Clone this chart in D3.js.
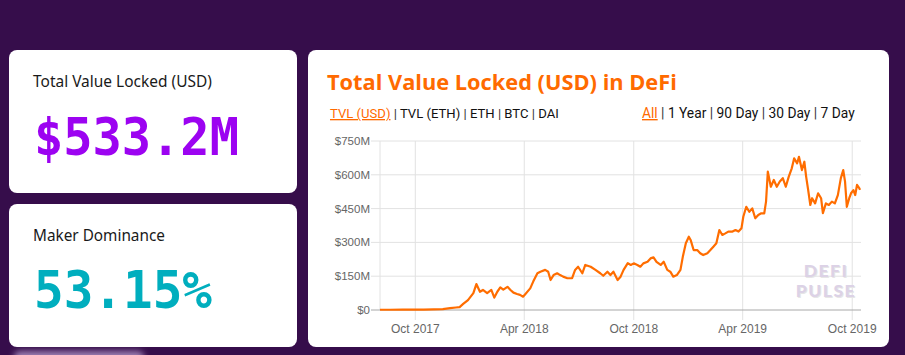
<!DOCTYPE html>
<html><head><meta charset="utf-8">
<script src="https://cdn.jsdelivr.net/npm/d3@7"></script>
<style>
html,body{margin:0;padding:0;background:#360d4b;overflow:hidden;}
svg{display:block;}
</style></head>
<body>
<svg id="c" width="905" height="355"></svg>
<script>
// ---- data ----
const tvlDate = ["2017-08-03","2017-08-20","2017-09-10","2017-10-01","2017-10-15","2017-11-01","2017-11-16","2017-11-28","2017-12-08","2017-12-14","2017-12-20","2017-12-28",
"2018-01-06","2018-01-11","2018-01-17","2018-01-22","2018-01-29","2018-02-05","2018-02-10","2018-02-15","2018-02-20","2018-02-25","2018-03-04","2018-03-09","2018-03-14","2018-03-20","2018-03-25","2018-03-30",
"2018-04-03","2018-04-11","2018-04-16","2018-04-23","2018-04-28","2018-05-06","2018-05-11","2018-05-15","2018-05-20","2018-05-26","2018-05-31","2018-06-05","2018-06-12","2018-06-20","2018-06-25","2018-06-30",
"2018-07-07","2018-07-12","2018-07-21","2018-07-29","2018-08-06","2018-08-11","2018-08-18","2018-08-23","2018-08-28","2018-09-04","2018-09-09","2018-09-14","2018-09-21","2018-09-26",
"2018-10-01","2018-10-07","2018-10-12","2018-10-17","2018-10-24","2018-10-29","2018-11-03","2018-11-08","2018-11-15","2018-11-20","2018-11-26","2018-12-01","2018-12-06","2018-12-12","2018-12-18","2018-12-22","2018-12-27",
"2019-01-01","2019-01-04","2019-01-09","2019-01-15","2019-01-20","2019-01-25","2019-02-01","2019-02-06","2019-02-11","2019-02-16","2019-02-21","2019-02-26","2019-03-03","2019-03-08","2019-03-15","2019-03-20","2019-03-25","2019-03-30",
"2019-04-02","2019-04-07","2019-04-12","2019-04-17","2019-04-22","2019-04-27","2019-05-02","2019-05-07","2019-05-10","2019-05-13","2019-05-18","2019-05-23","2019-05-28","2019-06-02","2019-06-07","2019-06-12","2019-06-17","2019-06-22","2019-06-26",
"2019-07-01","2019-07-04","2019-07-09","2019-07-13","2019-07-16","2019-07-19","2019-07-23","2019-07-26","2019-07-31","2019-08-05","2019-08-10","2019-08-13","2019-08-18","2019-08-23","2019-08-28",
"2019-09-02","2019-09-07","2019-09-12","2019-09-16","2019-09-19","2019-09-22","2019-09-26","2019-09-29","2019-10-03","2019-10-06","2019-10-09","2019-10-13","2019-10-14"];
const tvlUsdM = [1,1.2,1.5,1.8,2,3,4,8,11,13,27,44,
75,115,81,89,75,89,55,81,100,90,103,89,77,71,67,59,
71,96,126,163,170,178,170,133,155,163,155,148,141,141,178,192,
163,200,192,178,163,152,170,155,170,133,148,178,208,200,
207,200,192,207,214,229,234,214,200,214,178,170,148,155,178,237,296,
325,311,266,266,252,244,252,266,281,296,355,333,340,348,348,355,348,363,
414,458,436,451,407,422,429,429,481,614,547,577,547,570,585,547,592,629,673,
651,680,621,658,592,540,466,496,473,518,496,430,473,466,481,
473,510,585,621,570,458,496,518,532,510,555,540,533.2];
const xTickDates = ["2017-10-01","2018-04-01","2018-10-01","2019-04-01","2019-10-01"];
const yTicks = [0,150,300,450,600,750];
const leftTabs = ["TVL (USD)","TVL (ETH)","ETH","BTC","DAI"];
const rightTabs = ["All","1 Year","90 Day","30 Day","7 Day"];
const statLabels = ["Total Value Locked (USD)","Maker Dominance"];
const statValues = ["$533.2M","53.15%"];

// ---- drawing ----
const svg = d3.select("#c");
const parse = d3.timeParse("%Y-%m-%d");
const data = tvlDate.map((d,i)=>({date:parse(d), v:tvlUsdM[i]}));

function fit(sel, target){
  const n = sel.node();
  const w = n.getComputedTextLength();
  const fs = parseFloat(sel.attr("font-size"));
  sel.attr("font-size", fs*target/w);
}

// glow bottom-left
const defs = svg.append("defs");
defs.append("filter").attr("id","blur").attr("x","-50%").attr("y","-50%").attr("width","200%").attr("height","200%")
  .append("feGaussianBlur").attr("stdDeviation",3);
svg.append("rect").attr("x",14).attr("y",351).attr("width",130).attr("height",14).attr("rx",6)
  .attr("fill","#9d80b3").attr("filter","url(#blur)");

// cards
const cardRects = [[9,50,288,143],[9,204,288,143],[308,50,581,297]];
cardRects.forEach(r=>svg.append("rect").attr("x",r[0]).attr("y",r[1]).attr("width",r[2]).attr("height",r[3]).attr("rx",8).attr("fill","#fff"));

// stat cards
const statColors = ["#9c03f1","#00aebe"];
const labelY = [87,241], valueY=[155,308], labelW=[179,132], valueW=[205,178];
statLabels.forEach((t,i)=>{
  const s = svg.append("text").attr("x",33).attr("y",labelY[i]).attr("font-family","'Noto Sans', sans-serif")
    .attr("font-size",14).attr("fill","#1a1a1a").text(t);
  fit(s,labelW[i]);
  const gv = svg.append("g");
  const v = gv.append("text").attr("x",0).attr("y",0).attr("font-family","'DejaVu Sans Mono', monospace")
    .attr("font-weight",700).attr("font-size",48).attr("fill",statColors[i]).text(statValues[i]);
  fit(v,valueW[i]);
  const fs = parseFloat(v.attr("font-size"));
  const k = 37/(0.729*fs);
  gv.attr("transform",`translate(34,${valueY[i]}) scale(1,${k})`);
});

// title
const title = svg.append("text").attr("x",327).attr("y",90).attr("font-family","'Open Sans', sans-serif")
  .attr("font-weight",700).attr("font-size",20).attr("fill","#ff6a00").text("Total Value Locked (USD) in DeFi");
fit(title,350);

// tabs
function tabs(list, x, y, w){
  const t = svg.append("text").attr("x",x).attr("y",y).attr("font-family","Roboto, sans-serif").attr("font-size",12).attr("fill","#111");
  list.forEach((s,i)=>{
    if(i>0) t.append("tspan").attr("fill","#333").text(" | ");
    const ts = t.append("tspan").text(s);
    if(i===0) ts.attr("fill","#ff6a00").attr("text-decoration","underline");
  });
  fit(t,w);
}
tabs(leftTabs,330,118,229);
tabs(rightTabs,642,118,213);

// chart
const x = d3.scaleTime().domain(d3.extent(data,d=>d.date)).range([380,860]);
const y = d3.scaleLinear().domain([0,750]).range([310,141]);

const g = svg.append("g");
// horizontal grid
g.selectAll("line.h").data(yTicks.filter(d=>d>0)).join("line")
  .attr("x1",371).attr("x2",861).attr("y1",d=>y(d)).attr("y2",d=>y(d))
  .attr("stroke","#e2e2e2").attr("stroke-width",1);
// vertical grid
g.selectAll("line.v").data(xTickDates.map(parse)).join("line")
  .attr("x1",d=>x(d)).attr("x2",d=>x(d)).attr("y1",141).attr("y2",320)
  .attr("stroke","#e2e2e2").attr("stroke-width",1);
g.append("line").attr("x1",380).attr("x2",380).attr("y1",141).attr("y2",310).attr("stroke","#e2e2e2");

// watermark
const wm = svg.append("g").attr("font-family","Lato, sans-serif").attr("font-weight",900)
  .attr("text-anchor","middle");
[["DEFI",277],["PULSE",297]].forEach(([t,yy])=>{
  wm.append("text").attr("x",827).attr("y",yy+1).attr("font-size",17.5).attr("letter-spacing",1.5).attr("fill","#e6e6e6").text(t);
  wm.append("text").attr("x",826).attr("y",yy).attr("font-size",17.5).attr("letter-spacing",1.5).attr("fill","#dcd2e6").text(t);
});

// axes labels
g.selectAll("text.y").data(yTicks).join("text")
  .attr("x",370).attr("y",d=>y(d)+4).attr("text-anchor","end")
  .attr("font-family","'Liberation Sans', Arial, sans-serif").attr("font-size",11.5).attr("fill","#666")
  .text(d=>d===0?"$0":"$"+d+"M");
g.selectAll("text.x").data(xTickDates.map(parse)).join("text")
  .attr("x",d=>x(d)).attr("y",333).attr("text-anchor","middle")
  .attr("font-family","'Liberation Sans', Arial, sans-serif").attr("font-size",12).attr("fill","#666")
  .text(d3.timeFormat("%b %Y"));

// baseline
g.append("line").attr("x1",371).attr("x2",861).attr("y1",310).attr("y2",310).attr("stroke","#a8a8a8");

// line
g.append("path").datum(data)
  .attr("d",d3.line().x(d=>x(d.date)).y(d=>y(d.v)))
  .attr("fill","none").attr("stroke","#ff6d00").attr("stroke-width",2.2).attr("stroke-linejoin","round");
</script>
</body></html>
